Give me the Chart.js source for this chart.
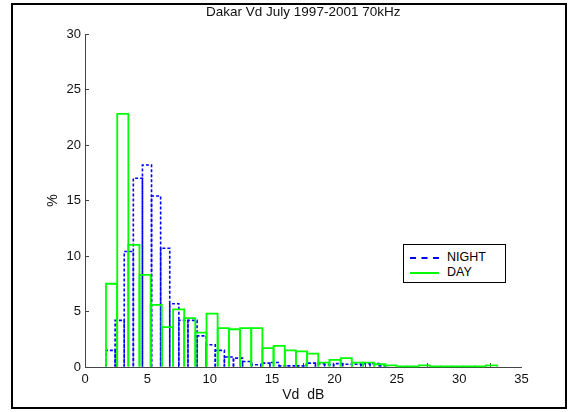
<!DOCTYPE html>
<html>
<head>
<meta charset="utf-8">
<title>Dakar Vd July 1997-2001 70kHz</title>
<script src="https://cdn.jsdelivr.net/npm/chart.js@4.4.1/dist/chart.umd.min.js"></script>
<style>
  html, body { margin: 0; padding: 0; background: #fff; }
  #wrap { position: relative; width: 573px; height: 412px; }
  #frame { position: absolute; left: 11px; top: 3px; width: 552px; height: 402px;
           border: 2px solid #000; pointer-events: none; }
  #legend { position: absolute; left: 403px; top: 244px; width: 101px; height: 37px;
            border: 1px solid #000; background: #fff;
            font: 12.5px "Liberation Sans", Arial, sans-serif; color: #000; }
  #legend .row { position: absolute; left: 6px; height: 14px; line-height: 14px; white-space: nowrap; }
  #legend .swatch { display: inline-block; width: 29px; height: 0; vertical-align: middle; margin-right: 8px; }
</style>
</head>
<body>
<div id="wrap">
  <canvas id="myChart" width="573" height="412"></canvas>
  <div id="frame"></div>
  <div id="legend"></div>
</div>
<script>
// bin centres (dB) and percentages
const nightBins = [2.05, 2.78, 3.51, 4.24, 4.97, 5.70, 6.43, 7.16, 7.89, 8.62, 9.35, 10.08, 10.81,
                   11.54, 12.27, 13.00, 13.73, 14.46, 15.19, 15.92, 16.65, 17.38, 18.11, 18.84,
                   19.57, 20.30, 21.03, 21.76, 22.49, 23.22, 23.95];
const nightPct  = [1.5, 4.2, 10.4, 17.0, 18.2, 15.4, 10.7, 5.7, 4.2, 4.2, 2.8, 2.0, 1.5,
                   0.9, 0.8, 0.5, 0.2, 0.35, 0.4, 0.1, 0.1, 0.1, 0.35, 0.3,
                   0.2, 0.3, 0.25, 0.25, 0.3, 0.3, 0.1];
const dayBins = [2.13, 3.03, 3.92, 4.82, 5.71, 6.61, 7.51, 8.40, 9.30, 10.19, 11.09, 11.99,
                 12.88, 13.78, 14.67, 15.57, 16.47, 17.36, 18.26, 19.15, 20.05, 20.95, 21.84,
                 22.74, 23.63, 24.53, 25.43, 26.32, 27.22, 28.11, 29.01, 29.91, 30.80, 31.70, 32.59];
const dayPct  = [7.5, 22.8, 11.0, 8.3, 5.6, 3.6, 5.2, 4.4, 3.1, 4.8, 3.5, 3.4,
                 3.5, 3.5, 1.7, 1.9, 1.5, 1.4, 1.2, 0.4, 0.65, 0.8, 0.4,
                 0.4, 0.25, 0.15, 0.05, 0.05, 0.15, 0.05, 0.05, 0.05, 0.05, 0.05, 0.15];
const seriesNames = ['NIGHT', 'DAY'];
const seriesColors = ['#0000ff', '#00ff00'];
const xTickVals = [0, 5, 10, 15, 20, 25, 30, 35];
const yTickVals = [0, 5, 10, 15, 20, 25, 30];

const FONT = '"Liberation Sans", Arial, Helvetica, sans-serif';

const toPoints = (xs, ys) => xs.map((x, i) => ({x: x, y: ys[i]}));

// MATLAB-like outlined bars: stroke each bar rectangle, dashed for night
const outlineBars = {
  id: 'outlineBars',
  afterDatasetsDraw(chart) {
    const ctx = chart.ctx;
    chart.data.datasets.forEach((ds, i) => {
      const meta = chart.getDatasetMeta(i);
      ctx.save();
      ctx.strokeStyle = ds.lineColor;
      ctx.lineWidth = ds.lineW;
      ctx.setLineDash(ds.dash || []);
      meta.data.forEach(bar => {
        const p = bar.getProps(['x', 'y', 'base', 'width'], true);
        const l = p.x - p.width / 2;
        ctx.beginPath();
        ctx.moveTo(l, p.base);
        ctx.lineTo(l, p.y);
        ctx.lineTo(l + p.width, p.y);
        ctx.lineTo(l + p.width, p.base);
        ctx.stroke();
      });
      ctx.restore();
    });
  }
};

const axisCommon = {
  border: {display: true, color: '#444', width: 1},
  grid: {drawOnChartArea: false, drawTicks: true, tickLength: -4, color: '#444'},
};

var ctx = document.getElementById('myChart').getContext('2d');
var myChart = new Chart(ctx, {
  type: 'bar',
  data: {
    datasets: [{
      label: seriesNames[0],
      data: toPoints(nightBins, nightPct),
      xAxisID: 'x',
      backgroundColor: 'rgba(0,0,0,0)',
      borderWidth: 0,
      lineColor: seriesColors[0],
      lineW: 1.6,
      dash: [3, 2]
    }, {
      label: seriesNames[1],
      data: toPoints(dayBins, dayPct),
      xAxisID: 'x2',
      backgroundColor: 'rgba(0,0,0,0)',
      borderWidth: 0,
      lineColor: seriesColors[1],
      lineW: 1.8
    }]
  },
  options: {
    responsive: false,
    animation: false,
    grouped: false,
    barPercentage: 1,
    categoryPercentage: 1,
    layout: {padding: {left: 40, top: 0, right: 51.5, bottom: 8.6}},
    plugins: {
      legend: {display: false},
      tooltip: {enabled: false},
      title: {
        display: true,
        fullSize: false,
        text: 'Dakar Vd July 1997-2001 70kHz',
        color: '#111',
        font: {family: FONT, size: 13.5, weight: 'normal'},
        padding: {top: 4, bottom: 13.8}
      }
    },
    scales: {
      x: {
        ...axisCommon,
        type: 'linear',
        position: 'bottom',
        offset: false,
        min: 0, max: 35,
        afterBuildTicks: s => { s.ticks = xTickVals.map(v => ({value: v})); },
        afterFit: s => { s.height = 36.4; },
        ticks: {color: '#111', padding: 9, font: {family: FONT, size: 13}},
        title: {display: true, text: 'Vd  dB', color: '#111',
                font: {family: FONT, size: 14}, padding: {top: 0, bottom: 0}}
      },
      x2: {
        type: 'linear',
        display: false,
        offset: false,
        min: 0, max: 35
      },
      y: {
        ...axisCommon,
        min: 0, max: 30,
        afterBuildTicks: s => { s.ticks = yTickVals.map(v => ({value: v})); },
        afterFit: s => { s.width = 45; },
        ticks: {color: '#111', padding: 8, font: {family: FONT, size: 13}},
        title: {display: true, text: '%', color: '#111',
                font: {family: FONT, size: 14}, padding: {top: 5, bottom: 0}}
      }
    }
  },
  plugins: [outlineBars]
});

// legend box inside the axes, like the MATLAB one
const legendEl = document.getElementById('legend');
seriesNames.forEach((name, i) => {
  const row = document.createElement('div');
  row.className = 'row';
  row.style.top = (5 + i * 15) + 'px';
  const sw = document.createElement('span');
  sw.className = 'swatch';
  sw.style.borderTop = '2px ' + (i === 0 ? 'dashed ' : 'solid ') + seriesColors[i];
  row.appendChild(sw);
  row.appendChild(document.createTextNode(name));
  legendEl.appendChild(row);
});
</script>
</body>
</html>
